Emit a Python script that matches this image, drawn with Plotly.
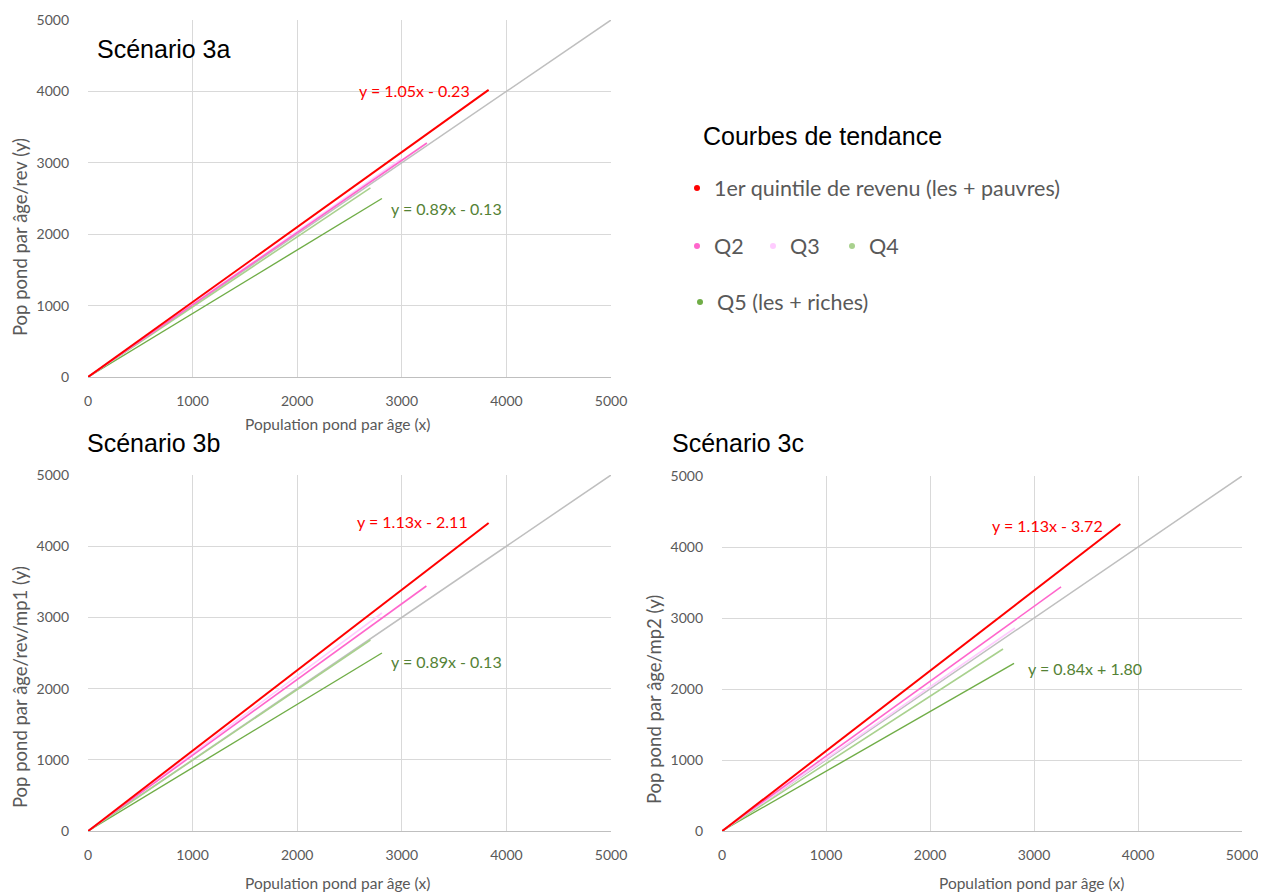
import plotly.graph_objects as go

# ---- data ----
series_names = ["Q1", "Q2", "Q3", "Q4", "Q5"]
series_colors = ["#FF0000", "#FF66CC", "#FFCCFF", "#A9D18E", "#70AD47"]
series_widths = [2, 1.6, 1.6, 1.6, 1.4]

# trend line end points per scenario (start at x=0)
x_end_3a = [3830, 3240, 3000, 2700, 2810]
y_end_3a = [4021, 3277, 3060, 2650, 2500]
y_start_3a = [-0.23, 0, 0, 0, -0.13]

x_end_3b = [3830, 3235, 2810, 2700, 2810]
y_end_3b = [4326, 3441, 3062, 2683, 2500]
y_start_3b = [-2.11, 0, 0, 0, -0.13]

x_end_3c = [3830, 3260, 2817, 2702, 2808]
y_end_3c = [4324, 3437, 2859, 2563, 2360]
y_start_3c = [-3.72, 0, 0, 0, 1.80]

diag_x = [0, 5000]
diag_y = [0, 5000]

tick_vals = [0, 1000, 2000, 3000, 4000, 5000]
tick_text = ["0", "1000", "2000", "3000", "4000", "5000"]

panel_titles = ["Scénario 3a", "Scénario 3b", "Scénario 3c"]
y_titles = ["Pop pond par âge/rev (y)", "Pop pond par âge/rev/mp1 (y)", "Pop pond par âge/mp2 (y)"]
x_title = "Population pond par âge (x)"

eq_red = ["y = 1.05x - 0.23", "y = 1.13x - 2.11", "y = 1.13x - 3.72"]
eq_red_pos = [(3117, 4006), (3098, 4340), (3125, 4296)]
eq_green = ["y = 0.89x - 0.13", "y = 0.89x - 0.13", "y = 0.84x + 1.80"]
eq_green_pos = [(3423, 2367), (3432, 2374), (3490, 2282)]

legend_title = "Courbes de tendance"
legend_labels = ["1er quintile de revenu (les + pauvres)", "Q2", "Q3", "Q4", "Q5 (les + riches)"]

# ---- layout helpers (page body has an 8px margin) ----
W, H = 1266, 893
OFF = 8
def px(x):
    return (x - OFF) / W
def py(y):
    return 1 - (y - OFF) / H

TXT = "#595959"
FONT = "Lato, Carlito, 'Open Sans', sans-serif"
ARIAL = "'Liberation Sans', Arial, sans-serif"

fig = go.Figure()

panels = [
    (x_end_3a, y_end_3a, y_start_3a, "x", "y"),
    (x_end_3b, y_end_3b, y_start_3b, "x2", "y2"),
    (x_end_3c, y_end_3c, y_start_3c, "x3", "y3"),
]

for xe, ye, ys, xa, ya in panels:
    fig.add_trace(go.Scatter(x=diag_x, y=diag_y, mode="lines",
                             line=dict(color="#BFBFBF", width=1.5),
                             xaxis=xa, yaxis=ya, showlegend=False, hoverinfo="skip"))
    for i in [4, 3, 2, 1, 0]:
        fig.add_trace(go.Scatter(x=[0, xe[i]], y=[ys[i], ye[i]], mode="lines",
                                 line=dict(color=series_colors[i], width=series_widths[i]),
                                 xaxis=xa, yaxis=ya, name=series_names[i], showlegend=False))

domains = [
    ([px(88), px(611)], [py(377), py(20)]),
    ([px(88), px(611)], [py(831), py(475)]),
    ([px(722), px(1242)], [py(831), py(476)]),
]

axis_common = dict(range=[0, 5000], tickvals=tick_vals, ticktext=tick_text,
                   showgrid=True, gridcolor="#D9D9D9", gridwidth=1, automargin=False,
                   zeroline=False, tickfont=dict(family=FONT, size=14, color=TXT),
                   ticks="", fixedrange=True)

layout_axes = {}
for k, (dx, dy) in enumerate(domains):
    sx = "" if k == 0 else str(k + 1)
    layout_axes["xaxis" + sx] = dict(axis_common, domain=dx, anchor="y" + sx,
                                     showline=True, linecolor="#BFBFBF", linewidth=1,
                                     mirror=False, ticklabelstandoff=11)
    layout_axes["yaxis" + sx] = dict(axis_common, domain=dy, anchor="x" + sx,
                                     showline=False, ticklabelstandoff=18)

fig.update_layout(**layout_axes)

annotations = []
# equations
for k in range(3):
    sx = "" if k == 0 else str(k + 1)
    annotations.append(dict(text=eq_red[k], x=eq_red_pos[k][0], y=eq_red_pos[k][1],
                            xref="x" + sx, yref="y" + sx, showarrow=False,
                            font=dict(family=FONT, size=16, color="#FF0000")))
    annotations.append(dict(text=eq_green[k], x=eq_green_pos[k][0], y=eq_green_pos[k][1],
                            xref="x" + sx, yref="y" + sx, showarrow=False,
                            font=dict(family=FONT, size=16, color="#548235")))

# axis titles
x_title_pos = [(337, 424), (337, 883), (1031, 883)]
for xx, yy in x_title_pos:
    annotations.append(dict(text=x_title, x=px(xx), y=py(yy), xref="paper", yref="paper",
                            xanchor="center", yanchor="middle", showarrow=False,
                            font=dict(family=FONT, size=15.5, color=TXT)))
y_title_pos = [(20, 237), (20, 687), (654, 700)]
for t, (xx, yy) in zip(y_titles, y_title_pos):
    annotations.append(dict(text=t, x=px(xx), y=py(yy), xref="paper", yref="paper",
                            xanchor="center", yanchor="middle", showarrow=False, textangle=-90,
                            font=dict(family=FONT, size=18.5, color=TXT)))

# scenario titles
title_pos = [(95, 49), (85, 443), (670, 443)]
for t, (xx, yy) in zip(panel_titles, title_pos):
    annotations.append(dict(text=t, x=px(xx), y=py(yy), xref="paper", yref="paper",
                            xanchor="left", yanchor="middle", showarrow=False,
                            font=dict(family=ARIAL, size=25, color="#000000")))

# custom legend
annotations.append(dict(text=legend_title, x=px(701), y=py(136), xref="paper", yref="paper",
                        xanchor="left", yanchor="middle", showarrow=False,
                        font=dict(family=ARIAL, size=25, color="#000000")))
leg_items = [(0, 697, 712, 188), (1, 697, 712, 246), (2, 773, 788, 246),
             (3, 852, 867, 246), (4, 700, 715, 302)]
shapes = []
for idx, dx_, tx_, yy in leg_items:
    r = 3
    shapes.append(dict(type="circle", xref="paper", yref="paper",
                       x0=px(dx_ - r), x1=px(dx_ + r), y0=py(yy + r), y1=py(yy - r),
                       fillcolor=series_colors[idx], line=dict(width=0)))
    annotations.append(dict(text=legend_labels[idx], x=px(tx_), y=py(yy), xref="paper", yref="paper",
                            xanchor="left", yanchor="middle", showarrow=False,
                            font=dict(family=FONT, size=21.5, color=TXT)))

fig.update_layout(width=W, height=H, margin=dict(l=0, r=0, t=0, b=0, autoexpand=False),
                  paper_bgcolor="white", plot_bgcolor="white",
                  annotations=annotations, shapes=shapes, showlegend=False)

fig.write_html("out.html")
